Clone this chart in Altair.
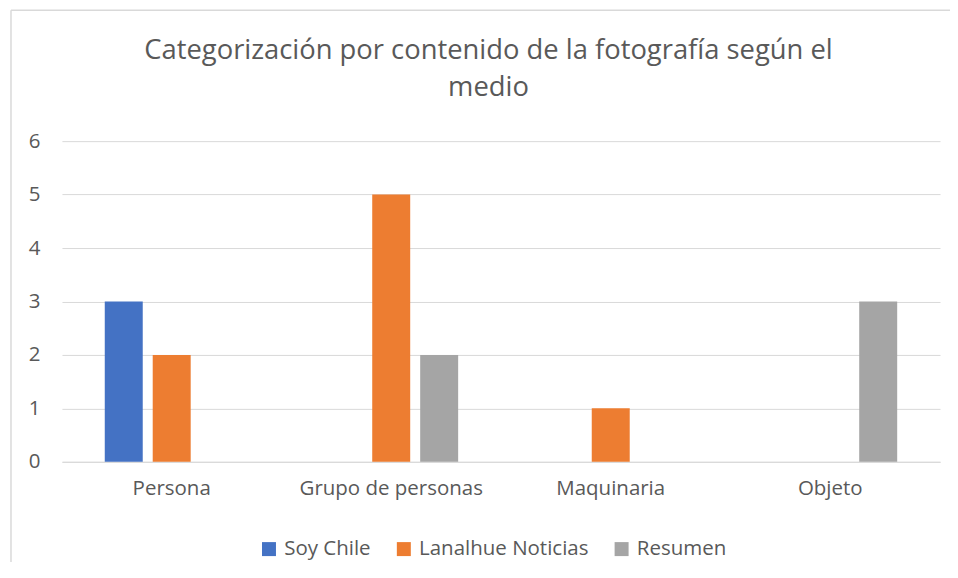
import altair as alt
import pandas as pd

categories = ["Persona", "Grupo de personas", "Maquinaria", "Objeto"]
series = ["Soy Chile", "Lanalhue Noticias", "Resumen"]
soy_chile = [3, 0, 0, 0]
lanalhue = [2, 5, 1, 0]
resumen = [0, 2, 0, 3]
colors = ["#4472C4", "#ED7D31", "#A5A5A5"]
title_lines = ["Categorización por contenido de la fotografía según el", "medio"]

rows = []
for vals, s in zip([soy_chile, lanalhue, resumen], series):
    for c, v in zip(categories, vals):
        rows.append({"categoria": c, "medio": s, "valor": v})
df = pd.DataFrame(rows)

FONT = "Open Sans"
GRAY = "#595959"
FS = 20.5
TFS = 27.4

bars = alt.Chart(df).mark_bar().encode(
    x=alt.X("categoria:N", sort=categories, title=None,
            scale=alt.Scale(paddingInner=0, paddingOuter=0),
            axis=alt.Axis(labelAngle=0, labelFontSize=FS, labelColor=GRAY, labelFont=FONT,
                          labelLimit=0, labelPadding=17, ticks=False, domainColor="#D9D9D9",
                          grid=False)),
    xOffset=alt.XOffset("medio:N", sort=series,
                        scale=alt.Scale(paddingInner=0.208, paddingOuter=0.893)),
    y=alt.Y("valor:Q", title=None,
            scale=alt.Scale(domain=[0, 6]),
            axis=alt.Axis(values=[0, 1, 2, 3, 4, 5, 6], labelFontSize=FS, labelColor=GRAY,
                          labelFont=FONT, labelPadding=22, ticks=False, domain=False,
                          gridColor="#D9D9D9", gridWidth=1)),
    color=alt.Color("medio:N", sort=series, title=None,
                    scale=alt.Scale(domain=series, range=colors),
                    legend=alt.Legend(orient="none", legendX=197, legendY=398, direction="horizontal",
                                      symbolType="square", symbolSize=196, symbolStrokeWidth=0,
                                      labelFontSize=FS, labelColor=GRAY, labelFont=FONT,
                                      labelLimit=0, labelOffset=5, columnPadding=22)),
)

title1 = alt.Chart(alt.Data(values=[{"t": title_lines[0]}])).mark_text(
    font=FONT, fontSize=TFS, color=GRAY, align="center", baseline="alphabetic"
).encode(text="t:N", x=alt.value(427), y=alt.value(-82))
title2 = alt.Chart(alt.Data(values=[{"t": title_lines[1]}])).mark_text(
    font=FONT, fontSize=TFS, color=GRAY, align="center", baseline="alphabetic"
).encode(text="t:N", x=alt.value(427), y=alt.value(-45))

border = alt.Chart(alt.Data(values=[{}])).mark_rule(color="#D9D9D9", strokeWidth=1.5).encode(
    x=alt.value(-51), y=alt.value(-131), y2=alt.value(500)
)
border_top = alt.Chart(alt.Data(values=[{}])).mark_rule(color="#D9D9D9", strokeWidth=1.5).encode(
    x=alt.value(-51), x2=alt.value(900), y=alt.value(-131)
)

chart = alt.layer(bars, title1, title2, border, border_top).properties(
    width=879, height=321,
    background="white",
    autosize=alt.AutoSizeParams(type="none"),
    padding={"left": 54, "top": 133, "right": 10, "bottom": 100},
).configure_view(strokeWidth=0, stroke="transparent")

chart.save("out.html", embed_options={"renderer": "svg", "actions": False})
